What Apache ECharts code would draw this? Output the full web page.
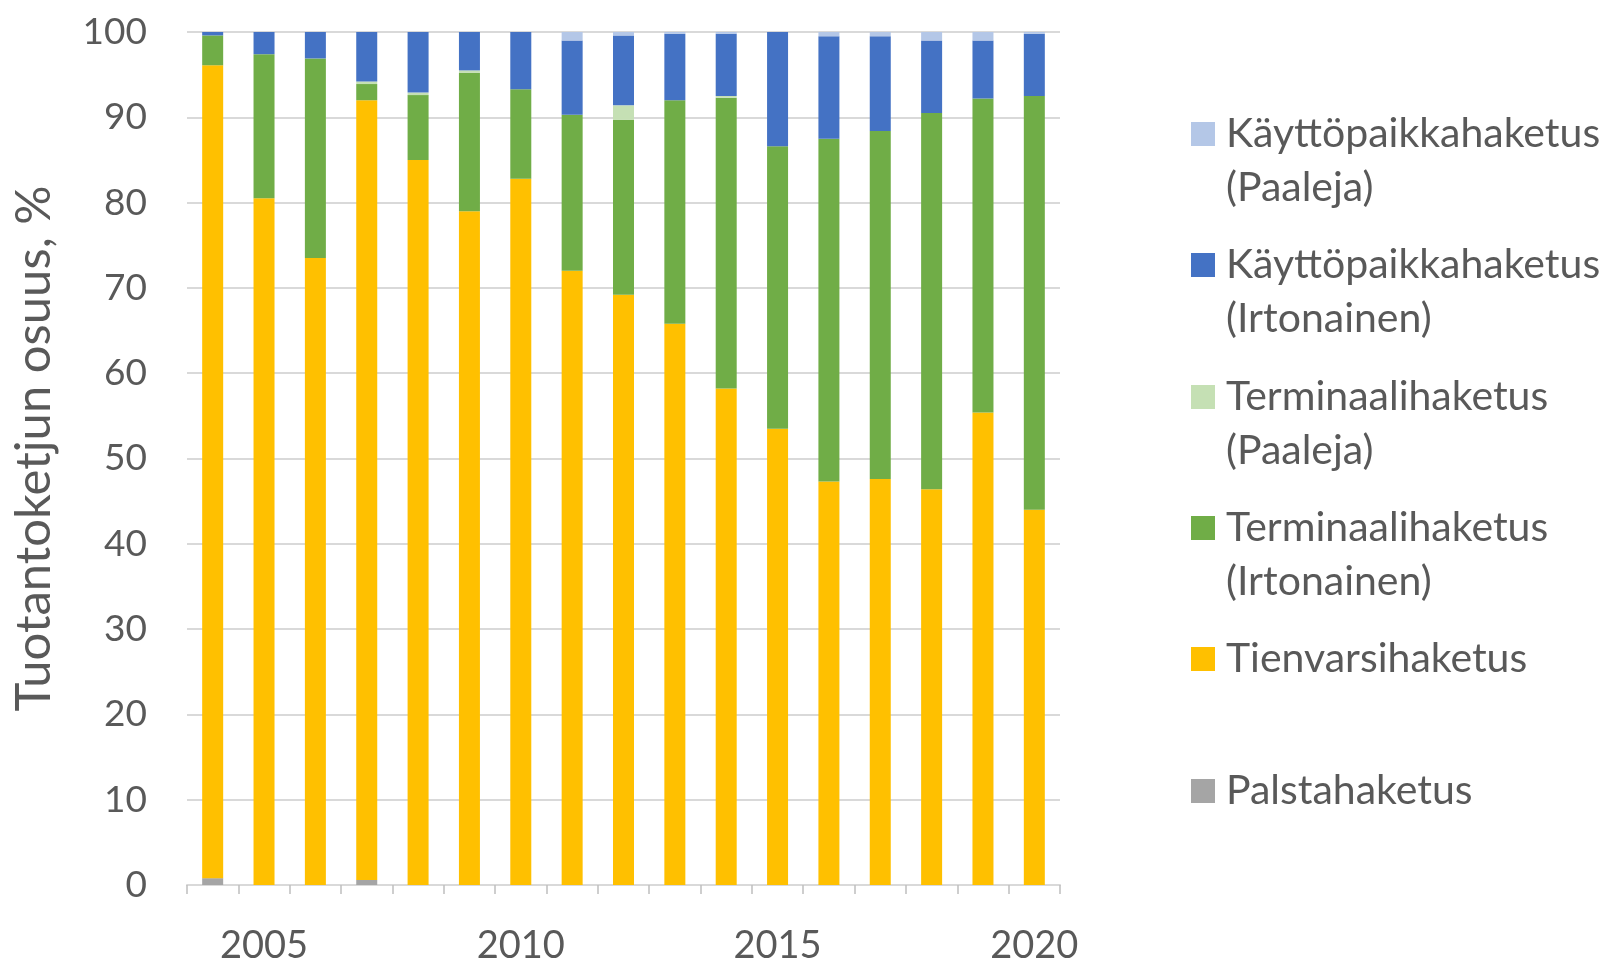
<!DOCTYPE html>
<html>
<head>
<meta charset="utf-8">
<script src="https://cdn.jsdelivr.net/npm/echarts@6/dist/echarts.min.js"></script>
<style>
  html, body { margin: 0; padding: 0; background: #ffffff; }
  #chart { width: 1613px; height: 961px; }
</style>
</head>
<body>
<div id="chart"></div>
<script>
// Vuodet
const years = ['2004','2005','2006','2007','2008','2009','2010','2011','2012',
               '2013','2014','2015','2016','2017','2018','2019','2020'];

// Tuotantoketjujen osuudet, %
const palstahaketus       = [0.8, 0, 0, 0.6, 0, 0, 0, 0, 0, 0, 0, 0, 0, 0, 0, 0, 0];
const tienvarsihaketus    = [95.3, 80.5, 73.5, 91.4, 85.0, 79.0, 82.8, 72.0, 69.2, 65.8, 58.2, 53.5, 47.3, 47.6, 46.4, 55.4, 44.0];
const terminaaliIrtonainen = [3.5, 16.9, 23.4, 1.9, 7.6, 16.2, 10.5, 18.3, 20.5, 26.2, 34.1, 33.1, 40.2, 40.8, 44.1, 36.8, 48.5];
const terminaaliPaaleja   = [0, 0, 0, 0.3, 0.3, 0.3, 0, 0, 1.7, 0, 0.2, 0, 0, 0, 0, 0, 0];
const kayttopaikkaIrtonainen = [0.4, 2.6, 3.1, 5.8, 7.1, 4.5, 6.7, 8.7, 8.2, 7.8, 7.3, 13.4, 12.0, 11.1, 8.5, 6.8, 7.3];
const kayttopaikkaPaaleja = [0, 0, 0, 0, 0, 0, 0, 1.0, 0.4, 0.2, 0.2, 0, 0.5, 0.5, 1.0, 1.0, 0.2];

// Akselin merkinnät
const yTicks = { min: 0, max: 100, interval: 10 };
const yAxisTitle = 'Tuotantoketjun osuus, %';

const FONT = 'Lato';
const TEXT = '#595959';

const seriesDefs = [
  { name: 'Palstahaketus', data: palstahaketus, color: '#A5A5A5' },
  { name: 'Tienvarsihaketus', data: tienvarsihaketus, color: '#FFC000' },
  { name: 'Terminaalihaketus\n(Irtonainen)', data: terminaaliIrtonainen, color: '#70AD47' },
  { name: 'Terminaalihaketus\n(Paaleja)', data: terminaaliPaaleja, color: '#C5E0B4' },
  { name: 'Käyttöpaikkahaketus\n(Irtonainen)', data: kayttopaikkaIrtonainen, color: '#4472C4' },
  { name: 'Käyttöpaikkahaketus\n(Paaleja)', data: kayttopaikkaPaaleja, color: '#B4C7E7' }
];

const LINE_H = 54;

// Selite: yksi kohde kerrallaan, merkki ensimmäisen rivin kohdalla
const legendCenters = [
  { name: 'Käyttöpaikkahaketus\n(Paaleja)', y: 134, two: true },
  { name: 'Käyttöpaikkahaketus\n(Irtonainen)', y: 265, two: true },
  { name: 'Terminaalihaketus\n(Paaleja)', y: 397, two: true },
  { name: 'Terminaalihaketus\n(Irtonainen)', y: 528, two: true },
  { name: 'Tienvarsihaketus', y: 659, two: false },
  { name: 'Palstahaketus', y: 791, two: false }
];

const legends = legendCenters.map(item => ({
  show: true,
  orient: 'vertical',
  left: 1191,
  top: item.two ? item.y - LINE_H * 1.5 : item.y - LINE_H / 2,
  padding: 0,
  itemWidth: 24,
  itemHeight: 24,
  icon: 'rect',
  selectedMode: false,
  data: [item.name],
  // tyhjä rivi ylös, jolloin merkki osuu ensimmäisen tekstirivin kohdalle
  formatter: item.two ? (n => ' \n' + n) : (n => n),
  textStyle: {
    fontFamily: FONT,
    fontSize: 41,
    color: TEXT,
    lineHeight: LINE_H,
    padding: [0, 0, 0, 6]
  }
}));

const chart = echarts.init(document.getElementById('chart'), null, { renderer: 'canvas' });

chart.setOption({
  backgroundColor: '#ffffff',
  animation: false,
  legend: legends,
  grid: { left: 187, right: 553, top: 32, bottom: 76, containLabel: false, outerBoundsMode: 'none' },
  xAxis: {
    type: 'category',
    data: years,
    boundaryGap: true,
    axisLine: { show: true, lineStyle: { color: '#D9D9D9', width: 2 } },
    axisTick: { show: true, interval: 0, length: 9, lineStyle: { color: '#BFBFBF', width: 1.5 } },
    axisLabel: {
      interval: (idx) => (idx - 1) % 5 === 0,
      fontFamily: FONT,
      fontSize: 38,
      color: TEXT,
      margin: 42
    },
    splitLine: { show: false }
  },
  yAxis: {
    type: 'value',
    min: yTicks.min,
    max: yTicks.max,
    interval: yTicks.interval,
    name: yAxisTitle,
    nameLocation: 'middle',
    nameGap: 128,
    nameTextStyle: { fontFamily: FONT, fontSize: 49, color: TEXT, padding: [0, 0, 0, 20] },
    axisLine: { show: false },
    axisTick: { show: false },
    axisLabel: { fontFamily: FONT, fontSize: 37, color: TEXT, margin: 40 },
    splitLine: { show: true, lineStyle: { color: '#D9D9D9', width: 2 } }
  },
  series: seriesDefs.map(s => ({
    name: s.name,
    type: 'bar',
    stack: 'total',
    barWidth: 21,
    data: s.data,
    itemStyle: { color: s.color },
    emphasis: { disabled: true }
  }))
});
</script>
</body>
</html>
